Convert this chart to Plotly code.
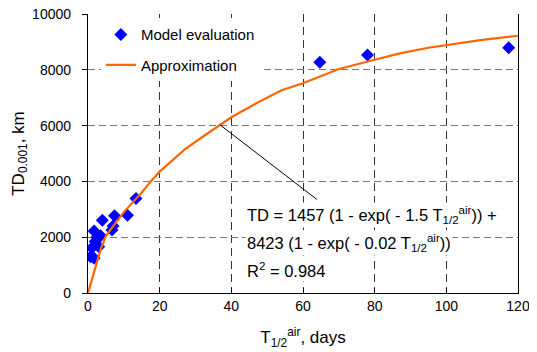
import plotly.graph_objects as go

# Model evaluation points (T1/2 air, days ; TD0.001, km)
model_T = [0.7, 1.7, 1.1, 3.0, 2.0, 1.7, 3.5, 2.5, 6.7, 7.0, 4.0, 7.4, 11.0, 13.4, 64.7, 78.0, 117.4]
model_TD = [1300, 1250, 1620, 1660, 1850, 2220, 2050, 2000, 2260, 2400, 2610, 2770, 2790, 3390, 8270, 8530, 8790]

# Approximation curve
approx_T = [0, 1, 2.5, 3.5, 5, 10, 15, 17.5, 20, 27, 32, 40, 47, 54, 60, 70, 80, 87, 95, 100, 110, 120]
approx_TD = [0, 430, 1150, 1550, 2050, 2900, 3600, 4000, 4350, 5150, 5600, 6300, 6800, 7270, 7520, 8030, 8360, 8590, 8790, 8890, 9070, 9220]

x_ticks = [0, 20, 40, 60, 80, 100, 120]
y_ticks = [0, 2000, 4000, 6000, 8000, 10000]
y_tick_labels = ["0", "2000", "4000", "6000", "8000", "10000"]

FONT = "Liberation Sans, Arial, sans-serif"

fig = go.Figure()
fig.add_trace(go.Scatter(
    x=model_T, y=model_TD, mode="markers", name="Model evaluation",
    marker=dict(symbol="diamond", size=10, color="#0000FF"),
    legendgroup="a"))
fig.add_trace(go.Scatter(
    x=approx_T, y=approx_TD, mode="lines", name="Approximation",
    line=dict(color="#FF6600", width=2.2), legendgroup="b"))

# page body has an 8px default margin, so the figure is sized to fit the window
fig.update_layout(
    width=529, height=344,
    margin=dict(l=80, r=19, t=6, b=59),
    paper_bgcolor="white", plot_bgcolor="white",
    font=dict(family=FONT, size=14, color="black"),
    showlegend=True,
    legend=dict(x=0.03, y=0.985, xanchor="left", yanchor="top",
                bgcolor="white", borderwidth=0, traceorder="grouped",
                tracegroupgap=8, font=dict(size=15)),
)
fig.update_xaxes(
    range=[0, 120], tickvals=x_ticks, ticks="inside", ticklen=5, tickcolor="black",
    showline=True, linecolor="black", linewidth=1.3,
    showgrid=True, gridcolor="#333333", gridwidth=1, griddash="8px,5px",
    zeroline=False, automargin=False, ticklabeloverflow="allow",
    title=dict(text="T<sub>1/2</sub><sup>air</sup>, days", standoff=18),
)
fig.update_yaxes(
    range=[0, 10000], tickvals=y_ticks, ticktext=y_tick_labels,
    ticks="outside", ticklen=5, tickcolor="black",
    showline=True, linecolor="black", linewidth=1.3, mirror=True,
    showgrid=True, gridcolor="#777777", gridwidth=1, griddash="7px,4px",
    zeroline=False, ticklabelstandoff=8, automargin=False,
    ticklabeloverflow="allow",
    title=dict(text="TD<sub>0.001</sub>, km", standoff=3),
)

# leader line
fig.add_annotation(x=36.9, y=6020, ax=64.3, ay=3310, xref="x", yref="y",
                   axref="x", ayref="y", showarrow=True, arrowhead=0,
                   arrowwidth=1, arrowcolor="black", text="")

lines = [
    "TD = 1457 (1 - exp( - 1.5 T<sub>1/2</sub><sup>air</sup>)) +",
    "8423 (1 - exp( - 0.02 T<sub>1/2</sub><sup>air</sup>))",
    "R<sup>2</sup> = 0.984",
]
ys = [0.28, 0.18, 0.083]
for t, yy in zip(lines, ys):
    fig.add_annotation(x=0.364, y=yy, xref="paper", yref="paper", text=t,
                       showarrow=False, xanchor="left", yanchor="middle",
                       bgcolor="white", font=dict(size=16.5, family=FONT))

fig.write_html("out.html")
